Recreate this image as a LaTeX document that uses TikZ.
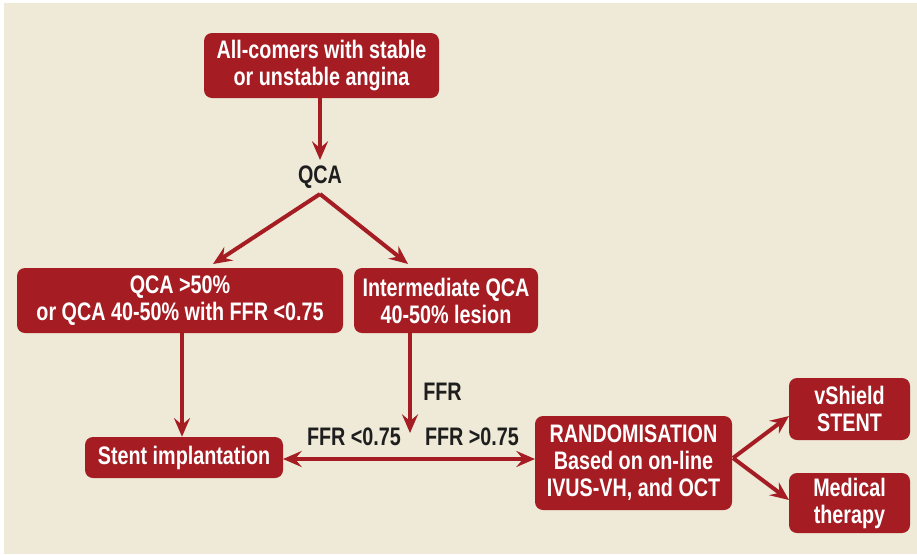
\documentclass[tikz,border=0pt]{standalone}
\usepackage{fontspec}
\setmainfont[FakeStretch=0.78]{Liberation Sans}
\usetikzlibrary{arrows.meta}
\definecolor{bg}{HTML}{EEEAD7}
\definecolor{dred}{HTML}{A51D23}
\definecolor{ink}{HTML}{1E1E1E}
\tikzset{
  box/.style={draw=none,fill=dred,rounded corners=6pt,text=white,align=center,
    font=\bfseries\fontsize{19}{20.3}\selectfont,inner sep=0pt},
  lbl/.style={text=ink,font=\bfseries\fontsize{19}{20}\selectfont,inner sep=0pt},
  arr/.style={draw=dred,line width=3pt,-{Stealth[length=14pt,width=12pt,inset=5pt]}},
  darr/.style={draw=dred,line width=3pt,{Stealth[length=14pt,width=12pt,inset=5pt]}-{Stealth[length=14pt,width=12pt,inset=5pt]}}
}
\begin{document}
\begin{tikzpicture}[x=0.75pt,y=-0.75pt]
\fill[white] (0,0) rectangle (917,554);
\fill[bg] (4,3) rectangle (917,554);
\useasboundingbox (0,0) rectangle (917,554);

\node[box,minimum width=176.25pt,minimum height=48.75pt] (top) at (321.5,65.5) {All-comers with stable\\or unstable angina};
\node[lbl] (qca) at (320,177) {QCA};
\node[box,minimum width=244.5pt,minimum height=48.75pt] (lbox) at (180,300.5) {QCA >50\%\\or QCA 40-50\% with FFR <0.75};
\node[box,minimum width=138pt,minimum height=48.75pt] (mbox) at (446,300.5) {Intermediate QCA\\40-50\% lesion};
\node[box,minimum width=148.5pt,minimum height=30.75pt] (stent) at (184,457.5) {Stent implantation};
\node[box,minimum width=147.75pt,minimum height=70.5pt] (rand) at (633.5,463) {RANDOMISATION\\Based on on-line\\IVUS-VH, and OCT};
\node[box,minimum width=90.75pt,minimum height=46.5pt] (vsh) at (849.5,409) {vShield\\STENT};
\node[box,minimum width=90.75pt,minimum height=45pt] (med) at (849.5,503) {Medical\\therapy};

\node[lbl,anchor=west] (ffr) at (423,392) {FFR};
\node[lbl] (flt) at (354,437) {FFR <0.75};
\node[lbl] (fgt) at (472,437) {FFR >0.75};

\coordinate (qtop) at (320,160);
\coordinate (qapex) at (320,194);
\coordinate (ltip) at (213,264);
\coordinate (mtip) at (408,264);
\coordinate (ffrtip) at (410,433);
\coordinate (hl) at (283,459);
\coordinate (hr) at (535,459);
\coordinate (rout) at (733,458);
\coordinate (vin) at (789,416);
\coordinate (min) at (789,500);

\draw[arr] (top.south -| qtop) -- (qtop);
\draw[arr] (qapex) -- (ltip);
\draw[arr] (qapex) -- (mtip);
\draw[arr] (lbox.south -| 182,0) -- (stent.north -| 182,0);
\draw[arr] (mbox.south -| 410,0) -- (ffrtip);
\draw[darr] (hl) -- (hr);
\draw[arr] (rout) -- (vin);
\draw[arr] (rout) -- (min);
\end{tikzpicture}
\end{document}
